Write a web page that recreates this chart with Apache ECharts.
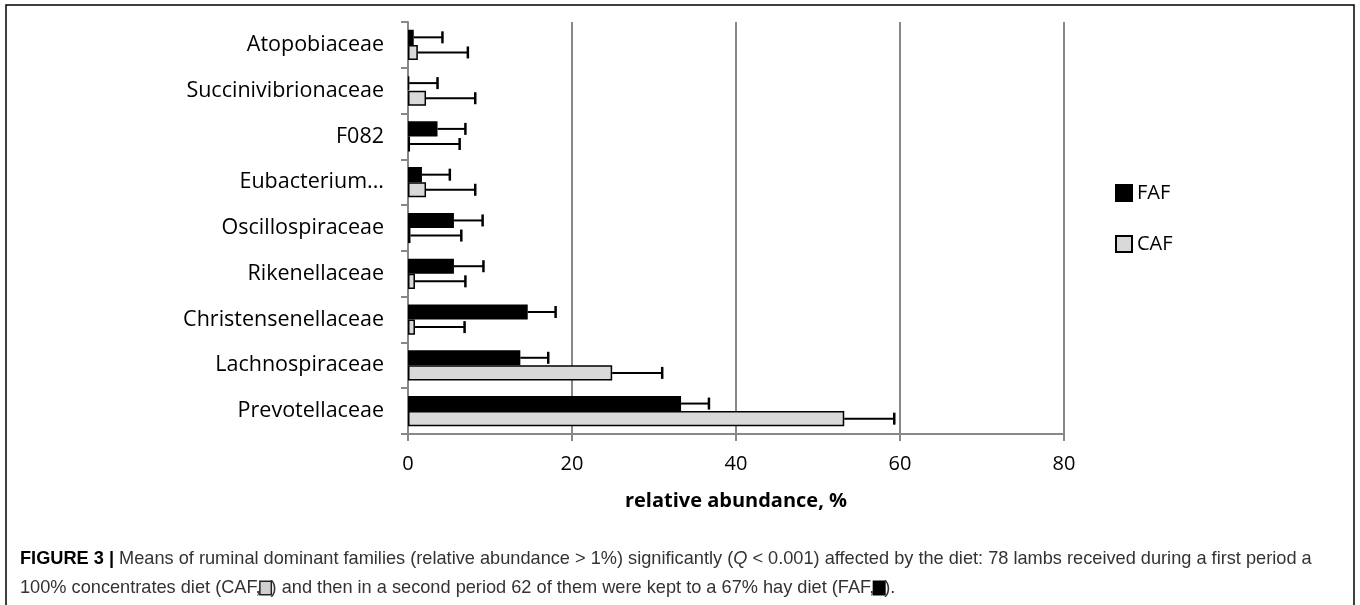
<!DOCTYPE html>
<html>
<head>
<meta charset="utf-8">
<script src="https://cdn.jsdelivr.net/npm/echarts@6/dist/echarts.min.js"></script>
<style>
html,body{margin:0;padding:0;background:#fff;}
#chart{width:1360px;height:605px;}
</style>
</head>
<body>
<div id="chart"></div>
<script>
// Categories listed bottom-to-top (ECharts category y-axis order)
const categories = ['Prevotellaceae','Lachnospiraceae','Christensenellaceae','Rikenellaceae','Oscillospiraceae','Eubacterium...','F082','Succinivibrionaceae','Atopobiaceae'];
const fafMeans = [33.3, 13.7, 14.6, 5.6, 5.6, 1.7, 3.6, 0.15, 0.7];
const fafErr   = [3.4, 3.4, 3.4, 3.6, 3.5, 3.4, 3.4, 3.45, 3.5];
const cafMeans = [53.2, 24.9, 0.85, 0.85, 0.3, 2.2, 0.25, 2.2, 1.2];
const cafErr   = [6.1, 6.1, 6.05, 6.15, 6.2, 6.0, 6.05, 6.0, 6.1];
const xTicks = [0, 20, 40, 60, 80];

const chart = echarts.init(document.getElementById('chart'));
const GAP = 0.34;

function errRenderer(pos) {
  return function (params, api) {
    const cat = api.value(2);
    const v = api.value(0), e = api.value(1);
    const band = api.size([0, 1])[1];
    const barW = band * (1 - GAP) / 2;
    const p0 = api.coord([v, cat]);
    const p1 = api.coord([v + e, cat]);
    const y = p0[1] + pos * barW / 2;
    const cap = 6;
    return {
      type: 'group',
      children: [
        {type: 'line', shape: {x1: p0[0], y1: y, x2: p1[0], y2: y}, style: {stroke: '#000', lineWidth: 2}},
        {type: 'line', shape: {x1: p1[0], y1: y - cap, x2: p1[0], y2: y + cap}, style: {stroke: '#000', lineWidth: 2.5}}
      ]
    };
  };
}

const font = 'Open Sans';
const option = {
  animation: false,
  backgroundColor: '#fff',
  grid: {left: 408, right: 296, top: 22, bottom: 171, containLabel: false},
  legend: {
    orient: 'vertical',
    left: 1115, top: 183, padding: 0,
    icon: 'rect',
    itemWidth: 16, itemHeight: 16, itemGap: 31,
    data: ['FAF', 'CAF'],
    textStyle: {fontFamily: font, fontSize: 20, color: '#000'}
  },
  xAxis: {
    type: 'value', min: 0, max: 80, interval: 20,
    name: 'relative abundance, %', nameLocation: 'middle', nameGap: 57,
    nameTextStyle: {fontFamily: font, fontSize: 20, fontWeight: 'bold', color: '#000'},
    axisLine: {show: true, lineStyle: {color: '#888', width: 2}},
    axisTick: {show: true, length: 7, lineStyle: {color: '#888', width: 2}},
    axisLabel: {fontFamily: font, fontSize: 20, color: '#000', margin: 20,
      formatter: function (v) { return xTicks.indexOf(v) >= 0 ? String(v) : ''; }},
    splitLine: {show: true, lineStyle: {color: '#888', width: 2}}
  },
  yAxis: {
    type: 'category', data: categories,
    axisLine: {show: true, lineStyle: {color: '#888', width: 2}},
    axisTick: {show: true, length: 7, lineStyle: {color: '#888', width: 2}},
    axisLabel: {fontFamily: font, fontSize: 21.5, color: '#000', margin: 24}
  },
  series: [
    {
      name: 'FAF', type: 'bar', data: fafMeans, barGap: '0%', barCategoryGap: (GAP * 100) + '%',
      itemStyle: {color: '#000', borderColor: '#000', borderWidth: 1.5}, z: 2
    },
    {
      name: 'CAF', type: 'bar', data: cafMeans, barGap: '0%', barCategoryGap: (GAP * 100) + '%',
      itemStyle: {color: '#d9d9d9', borderColor: '#000', borderWidth: 1.5}, z: 2
    },
    {
      name: 'FAF err', type: 'custom', renderItem: errRenderer(-1),
      data: fafMeans.map((m, i) => [m, fafErr[i], i]), encode: {x: 0, y: 2}, z: 3, silent: true
    },
    {
      name: 'CAF err', type: 'custom', renderItem: errRenderer(1),
      data: cafMeans.map((m, i) => [m, cafErr[i], i]), encode: {x: 0, y: 2}, z: 3, silent: true
    }
  ],
  graphic: [
    {type: 'rect', shape: {x: 6, y: 5, width: 1348, height: 640}, style: {fill: 'none', stroke: '#000', lineWidth: 1.5}, silent: true},
    {type: 'text', left: 20, top: 550, style: {
      text: '{b|FIGURE 3 |} Means of ruminal dominant families (relative abundance > 1%) significantly ({i|Q} < 0.001) affected by the diet: 78 lambs received during a first period a',
      fontFamily: 'Liberation Sans', fontSize: 18.2, fill: '#333',
      rich: {b: {fontFamily: 'Liberation Sans', fontSize: 18.2, fontWeight: 'bold', fill: '#000'},
             i: {fontFamily: 'Liberation Sans', fontSize: 18.2, fontStyle: 'italic', fill: '#333'}}
    }},
    {type: 'text', left: 20, top: 579, style: {
      text: '100% concentrates diet (CAF,{g| }) and then in a second period 62 of them were kept to a 67% hay diet (FAF,{k| }).',
      fontFamily: 'Liberation Sans', fontSize: 18.2, fill: '#333',
      rich: {g: {width: 10, height: 12, backgroundColor: '#cfcfcf', borderColor: '#222', borderWidth: 1.5, fontSize: 10},
             k: {width: 10, height: 12, backgroundColor: '#000', borderColor: '#000', borderWidth: 1.5, fontSize: 10}}
    }}
  ]
};
chart.setOption(option);
</script>
</body>
</html>
